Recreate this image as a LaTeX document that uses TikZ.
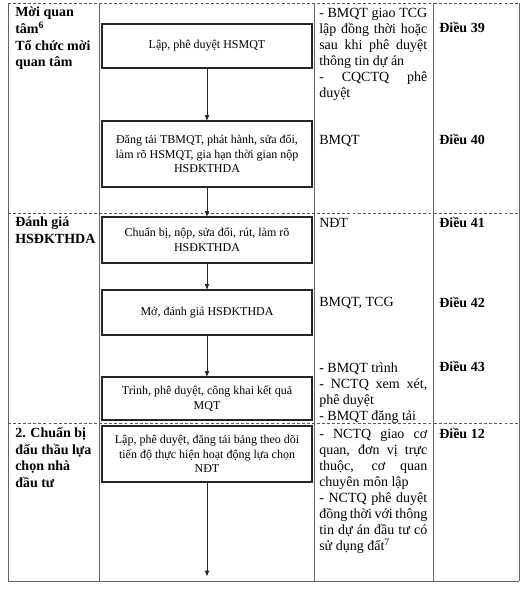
\documentclass[tikz,border=0pt]{standalone}
\usepackage{fontspec}
\setmainfont{Liberation Serif}
\usetikzlibrary{arrows.meta,positioning}

\begin{document}
\begin{tikzpicture}[x=0.75pt,y=-0.75pt,
    tabline/.style={draw=black!60, line width=0.6pt},
    rowline/.style={draw=black!65, line width=0.6pt, dash pattern=on 2.2pt off 1.6pt},
    stepbox/.style={draw=black!85, line width=0.9pt, minimum width=157.5pt, align=center,
        inner sep=0pt, font=\fontsize{9}{11}\selectfont},
    flow/.style={-{Triangle[length=4pt,width=3.2pt]}, line width=0.6pt, draw=black!85, fill=black!85},
    phase/.style={anchor=north west, align=left, inner sep=0pt, font=\fontsize{10.5}{12.5}\selectfont\bfseries},
    actor/.style={anchor=north west, text width=81pt, align=justify, inner sep=0pt, font=\fontsize{10.5}{12}\selectfont},
    article/.style={anchor=base west, inner sep=0pt, font=\fontsize{10.5}{12}\selectfont\bfseries}]

    \useasboundingbox (0,0) rectangle (530,589);

    % Table frame
    \foreach \x in {8,99,314,433,519}
        \draw[tabline] (\x,3) -- (\x,581);
    \draw[tabline] (8,581) -- (519,581);
    \foreach \y in {3,213,423}
        \draw[rowline] (8,\y) -- (519,\y);

    % Steps
    \node[stepbox, minimum height=33pt] (s1) at (207,46) {Lập, phê duyệt HSMQT};
    \node[stepbox, minimum height=49.5pt] (s2) at (207,154) {Đăng tải TBMQT, phát hành, sửa đổi,\\ làm rõ HSMQT, gia hạn thời gian nộp\\ HSĐKTHDA};
    \node[stepbox, minimum height=34.5pt] (s3) at (207,240) {Chuẩn bị, nộp, sửa đổi, rút, làm rõ\\ HSĐKTHDA};
    \node[stepbox, minimum height=33.75pt] (s4) at (207,312.5) {Mở, đánh giá HSĐKTHDA};
    \node[stepbox, minimum height=32.25pt] (s5) at (207,398.5) {Trình, phê duyệt, công khai kết quả\\ MQT};
    \node[stepbox, minimum height=42pt] (s6) at (207,454) {Lập, phê duyệt, đăng tải bảng theo dõi\\ tiến độ thực hiện hoạt động lựa chọn\\ NĐT};
    \coordinate (bottom) at (207,576);

    % Flow
    \draw[flow] (s1) -- (s2);
    \draw[flow] (s2) -- (s3);
    \draw[flow] (s3) -- (s4);
    \draw[flow] (s4) -- (s5);
    \draw[flow] (s6) -- (bottom);

    % Phases
    \node[phase] (p1) at (15,7) {Mời quan\\ tâm\textsuperscript{6}\\ Tổ chức mời\\ quan tâm};
    \node[phase] (p2) at (15,217) {Đánh giá\\ HSĐKTHDA};
    \node[phase] (p3) at (15,427) {2. Chuẩn bị\\ đấu thầu lựa\\ chọn nhà\\ đầu tư};

    % Responsible parties
    \node[actor] (a1) at (319,8) {- BMQT giao TCG\linebreak lập đồng thời hoặc\linebreak sau khi phê duyệt\linebreak thông tin dự án\\ - CQCTQ phê\linebreak duyệt};
    \node[actor] (a2) at (319,135) {BMQT};
    \node[actor] (a3) at (319,218) {NĐT};
    \node[actor] (a4) at (319,297) {BMQT, TCG};
    \node[actor] (a5) at (319,362) {- BMQT trình\\ - NCTQ xem xét,\linebreak phê duyệt\\ - BMQT đăng tải};
    \node[actor] (a6) at (319,429) {- NCTQ giao cơ\linebreak quan, đơn vị trực\linebreak thuộc, cơ quan\linebreak chuyên môn lập\\ - NCTQ phê duyệt\linebreak đồng thời với thông\linebreak tin dự án đầu tư có\linebreak sử dụng đất\textsuperscript{7}};

    % Articles
    \node[article] (d39) at (439,32) {Điều 39};
    \node[article] (d40) at (439,144) {Điều 40};
    \node[article] (d41) at (439,227) {Điều 41};
    \node[article] (d42) at (439,307) {Điều 42};
    \node[article] (d43) at (439,371) {Điều 43};
    \node[article] (d12) at (439,438) {Điều 12};
\end{tikzpicture}
\end{document}
